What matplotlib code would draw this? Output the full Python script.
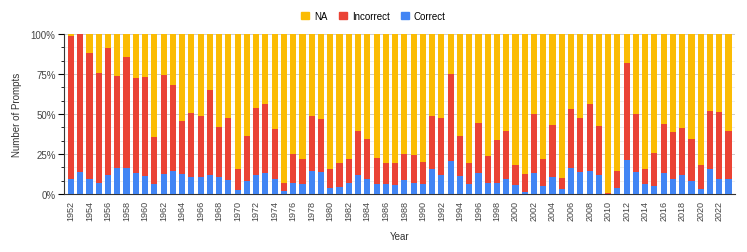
import numpy as np
import matplotlib.pyplot as plt
from matplotlib.patches import Patch

plt.rcParams['font.family'] = ['Liberation Sans', 'DejaVu Sans']

years = list(range(1952, 2024))
# percent of prompts
correct = [9.4, 14, 9.4, 7, 11.7, 16.3, 16.3, 13, 11.3, 6.3,
           12.5, 14.2, 12.7, 10.4, 10.8, 11.7, 10.8, 9, 2.5, 8,
           11.7, 13, 9.4, 1.9, 6.9, 6.5, 14.2, 14, 3.5, 4.4,
           6.9, 11.9, 9.2, 6.5, 6, 5.6, 9, 6.9, 6, 15.4,
           11.7, 20.6, 11.3, 6, 13, 6.9, 6.9, 9.2, 5.6, 1.5,
           13, 4.8, 10.4, 3, 16.5, 14, 14.4, 11.9, 0, 4,
           21, 14, 6, 5.2, 13.1, 9.2, 11.9, 8.1, 3.1, 15.8,
           9.2, 9.4]
# correct + incorrect
answered = [99, 100, 88, 75.4, 91, 73.7, 85.4, 72.3, 73, 35.4,
            74.4, 68, 45.8, 50.4, 49, 65, 42, 47.7, 15.4, 36.5,
            53.5, 56, 40.6, 6.7, 25, 21.9, 48.8, 46.9, 15.8, 19.4,
            21.9, 39.6, 34.4, 22.3, 19.4, 19.6, 25.2, 24.4, 20.2, 48.8,
            47.5, 74.8, 36.3, 19.6, 44.4, 24, 33.5, 39.4, 17.9, 12.5,
            50, 21.9, 43, 9.8, 53.3, 47.7, 56, 42.7, 0.8, 14.2,
            81.9, 50, 15.8, 25.8, 43.5, 39, 41.5, 34.6, 18.1, 51.7,
            51.3, 39.6]

correct = np.array(correct)
incorrect = np.array(answered) - correct
na = 100 - np.array(answered)

c_blue = '#4285F4'
c_red = '#EA4335'
c_yel = '#FBBC04'

fig = plt.figure(figsize=(7.47, 2.53), dpi=100)
ax = fig.add_axes([64 / 747, 58 / 253, 671 / 747, 160 / 253])

x = np.arange(len(years))
w = 0.66
ax.bar(x, correct, w, color=c_blue, zorder=3)
ax.bar(x, incorrect, w, bottom=correct, color=c_red, zorder=3)
ax.bar(x, na, w, bottom=correct + incorrect, color=c_yel, zorder=3)

ax.set_xlim(-0.75, len(years) - 0.3)
ax.set_ylim(0, 100)
ax.set_yticks([0, 25, 50, 75, 100])
ax.set_yticklabels(['0%', '25%', '50%', '75%', '100%'], fontsize=7, color='#444444')
ax.set_yticks(np.arange(0, 100, 25 / 3), minor=True)
ax.grid(axis='y', which='major', color='#cccccc', linewidth=0.7, zorder=0)
ax.grid(axis='y', which='minor', color='#ebebeb', linewidth=0.6, zorder=0)
ax.tick_params(axis='y', which='major', length=4, width=0.8, pad=2)
ax.tick_params(axis='y', which='minor', length=2, width=0.6)

ax.set_xticks(x[::2])
ax.set_xticklabels([str(y) for y in years[::2]], rotation=90, fontsize=6.5, color='#444444')
ax.tick_params(axis='x', length=0, pad=4)

for s in ['top', 'right']:
    ax.spines[s].set_visible(False)
ax.spines['left'].set_color('#333333')
ax.spines['bottom'].set_color('#333333')

ax.set_ylabel('Number of Prompts', fontsize=7, color='#333333', labelpad=6)
ax.set_xlabel('Year', fontsize=7, color='#333333', labelpad=8)

handles = [Patch(color=c_yel, label='NA'), Patch(color=c_red, label='Incorrect'),
           Patch(color=c_blue, label='Correct')]
fig.legend(handles=handles, loc='center', bbox_to_anchor=(0.5, 1 - 17 / 253), ncol=3,
           frameon=False, fontsize=7, handlelength=0.8, handleheight=0.8,
           columnspacing=1.2, handletextpad=0.5)

fig.savefig('out.png', dpi=100)
